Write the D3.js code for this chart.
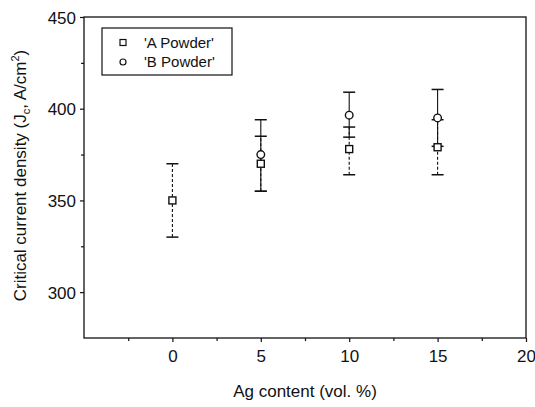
<!DOCTYPE html>
<html>
<head>
<meta charset="utf-8">
<script src="https://cdn.jsdelivr.net/npm/d3@7"></script>
<style>
  body { margin: 0; background: #fff; }
  svg { display: block; font-family: "Liberation Sans", Arial, sans-serif; }
</style>
</head>
<body>
<svg id="chart" width="535" height="407"></svg>
<script>
// values
const agA = [0, 5, 10, 15];
const jcA = [350, 370, 378, 379];
const lowA = [330, 355, 364, 364];
const highA = [370, 385, 390, 394];

const agB = [5, 10, 15];
const jcB = [375, 396.5, 395];
const lowB = [355, 384.5, 379.5];
const highB = [394, 409, 410.5];

const xTicks = [0, 5, 10, 15, 20];
const xMinor = [-2.5, 2.5, 7.5, 12.5, 17.5];
const yTicks = [300, 350, 400, 450];
const yMinor = [325, 375, 425];
const legendNames = ["'A Powder'", "'B Powder'"];

const svg = d3.select("#chart");
const plotLeft = 84, plotRight = 526, plotTop = 17, plotBottom = 338;
const ink = "#111";

const x = d3.scaleLinear().domain([-5, 20]).range([plotLeft, plotRight]);
const y = d3.scaleLinear().domain([275, 450]).range([plotBottom, plotTop]);

// frame
svg.append("rect")
  .attr("x", plotLeft).attr("y", plotTop)
  .attr("width", plotRight - plotLeft).attr("height", plotBottom - plotTop)
  .attr("fill", "none").attr("stroke", ink).attr("stroke-width", 1.3);

// axes
svg.append("g").attr("transform", "translate(0," + plotBottom + ")")
  .call(d3.axisBottom(x).tickValues(xTicks).tickSize(4).tickPadding(8).tickFormat(d3.format("d")));
svg.append("g").attr("transform", "translate(0," + plotBottom + ")")
  .call(d3.axisBottom(x).tickValues(xMinor).tickSize(3).tickFormat(""));
const yAxis = svg.append("g").attr("transform", "translate(" + plotLeft + ",0)")
  .call(d3.axisLeft(y).tickValues(yTicks).tickSize(4).tickPadding(4).tickFormat(d3.format("d")));
svg.append("g").attr("transform", "translate(" + plotLeft + ",0)")
  .call(d3.axisLeft(y).tickValues(yMinor).tickSize(3).tickFormat(""));

svg.selectAll(".domain").remove();
svg.selectAll(".tick line").attr("stroke", ink).attr("stroke-width", 1.2);
svg.selectAll(".tick text").attr("fill", ink).style("font-size", "17px");
yAxis.selectAll(".tick text").attr("dy", "0.36em");

// axis titles
svg.append("text")
  .attr("x", (plotLeft + plotRight) / 2).attr("y", 397)
  .attr("text-anchor", "middle").attr("fill", ink)
  .style("font-size", "17px")
  .text("Ag content (vol. %)");

const yTitle = svg.append("text")
  .attr("transform", "translate(26," + ((plotTop + plotBottom) / 2 - 2) + ") rotate(-90)")
  .attr("text-anchor", "middle").attr("fill", ink)
  .style("font-size", "17px");
yTitle.append("tspan").text("Critical current density (J");
yTitle.append("tspan").attr("dy", 4).style("font-size", "11px").text("c");
yTitle.append("tspan").attr("dy", -4).text(", A/cm");
yTitle.append("tspan").attr("dy", -7).style("font-size", "11px").text("2");
yTitle.append("tspan").attr("dy", 7).text(")");

// error bars
function errorBars(xs, lows, highs, dash) {
  const g = svg.append("g").attr("stroke", ink).attr("fill", "none");
  xs.forEach(function (d, i) {
    g.append("line")
      .attr("x1", x(d)).attr("x2", x(d))
      .attr("y1", y(lows[i])).attr("y2", y(highs[i]))
      .attr("stroke-width", 1.1)
      .attr("stroke-dasharray", dash);
    [lows[i], highs[i]].forEach(function (v) {
      g.append("line")
        .attr("x1", x(d) - 6).attr("x2", x(d) + 6)
        .attr("y1", y(v)).attr("y2", y(v))
        .attr("stroke-width", 1.5);
    });
  });
}
errorBars(agA, lowA, highA, "3,2");
errorBars(agB, lowB, highB, null);

// markers
svg.append("g").selectAll("rect")
  .data(agA)
  .enter().append("rect")
  .attr("x", d => x(d) - 3.5)
  .attr("y", (d, i) => y(jcA[i]) - 3.5)
  .attr("width", 7).attr("height", 7)
  .attr("fill", "#fff").attr("stroke", ink).attr("stroke-width", 1.4);

svg.append("g").selectAll("circle")
  .data(agB)
  .enter().append("circle")
  .attr("cx", d => x(d))
  .attr("cy", (d, i) => y(jcB[i]))
  .attr("r", 3.8)
  .attr("fill", "#fff").attr("stroke", ink).attr("stroke-width", 1.4);

// legend
const legend = svg.append("g");
legend.append("rect")
  .attr("x", 102).attr("y", 28).attr("width", 130).attr("height", 47)
  .attr("fill", "#fff").attr("stroke", ink).attr("stroke-width", 1.2);
legend.append("rect")
  .attr("x", 120).attr("y", 39.5).attr("width", 6).attr("height", 6)
  .attr("fill", "#fff").attr("stroke", ink).attr("stroke-width", 1.2);
legend.append("circle")
  .attr("cx", 123).attr("cy", 62).attr("r", 3)
  .attr("fill", "#fff").attr("stroke", ink).attr("stroke-width", 1.2);
legend.selectAll("text.name")
  .data(legendNames)
  .enter().append("text")
  .attr("class", "name")
  .attr("x", 144)
  .attr("y", (d, i) => 48 + i * 19)
  .attr("fill", ink)
  .style("font-size", "15px")
  .text(d => d);
</script>
</body>
</html>
